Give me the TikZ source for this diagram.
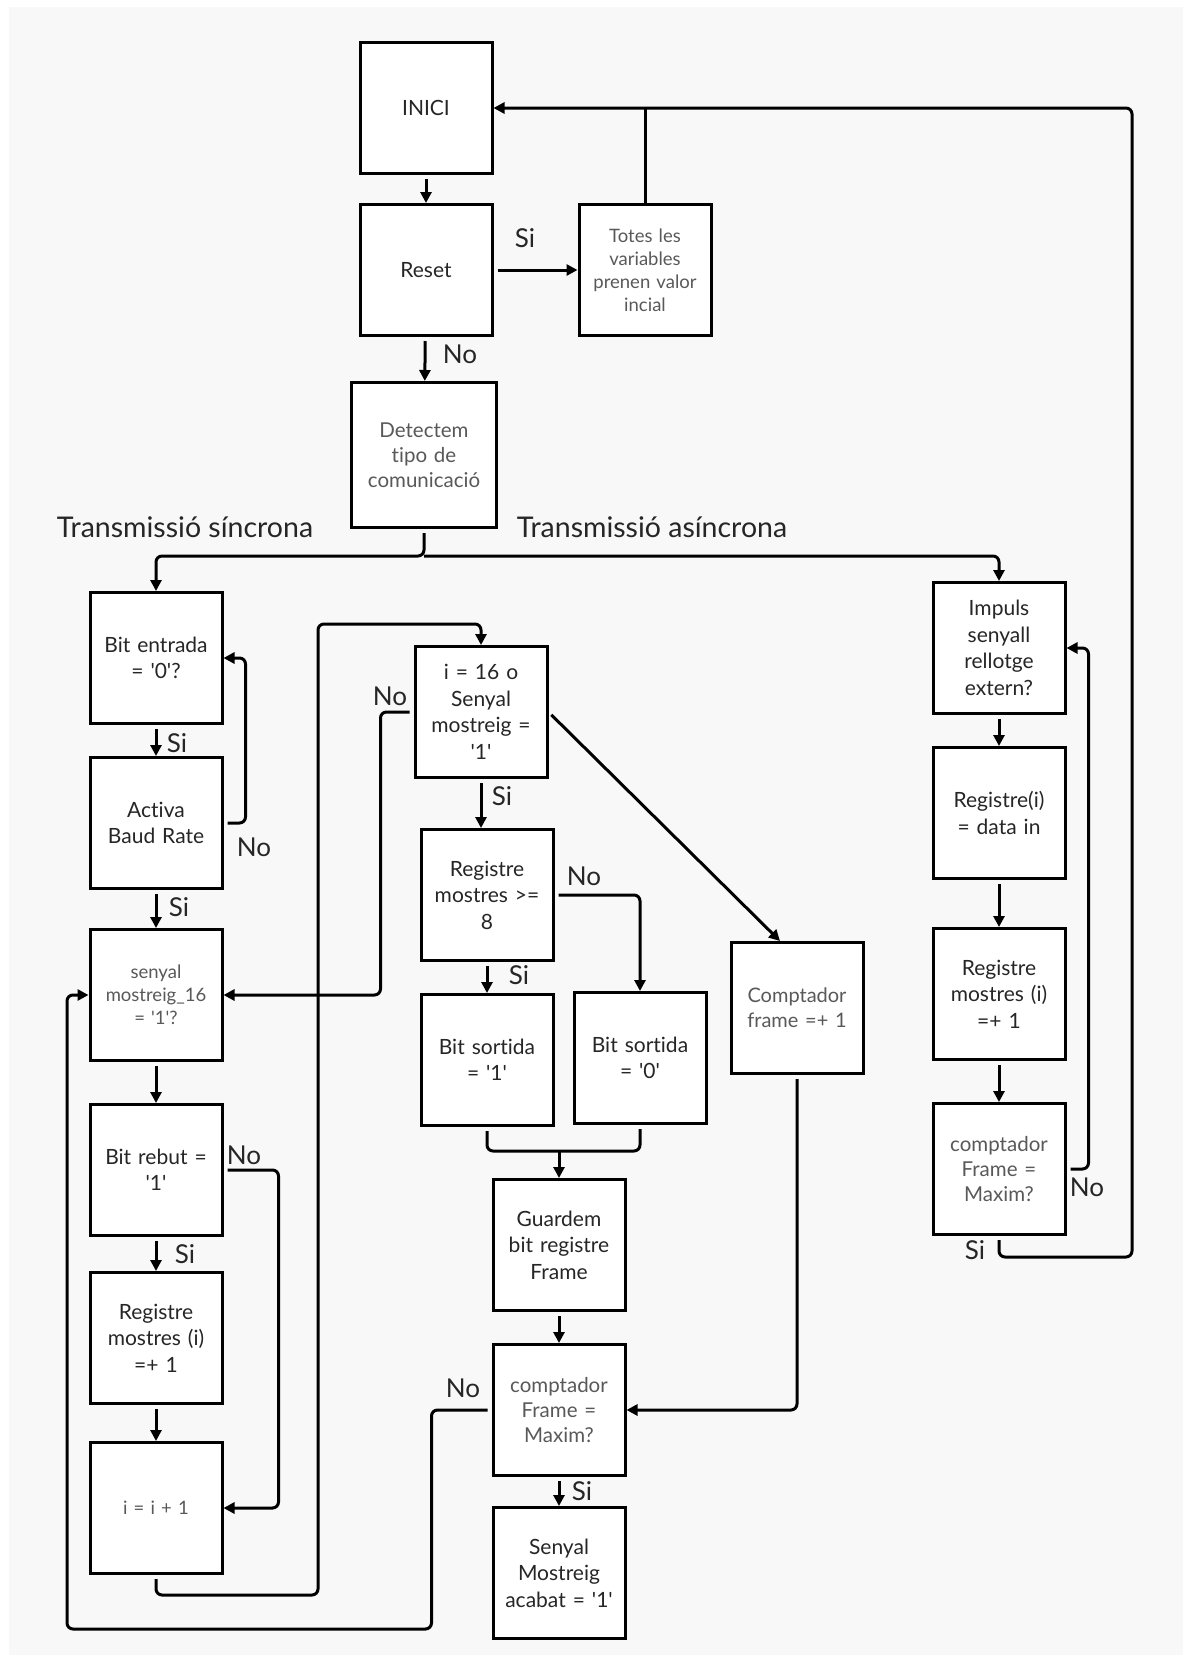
\documentclass[tikz,border=0pt]{standalone}
\usepackage{fontspec}
\setmainfont{Lato}[Ligatures={NoCommon}]
\usetikzlibrary{arrows.meta}
\definecolor{bg}{HTML}{F8F8F8}
\newcommand\sq{\textquotesingle}
\begin{document}
\begin{tikzpicture}[x=1pt,y=-1pt,
  box/.style={draw, line width=3pt, fill=white, minimum width=132pt, minimum height=131pt, inner sep=4pt, align=center, text width=124pt, font=\fontsize{21}{26.5}\selectfont, text=black!85},
  lbox/.style={box, font=\fontsize{18.5}{23}\selectfont, text=black!65},
  lbl/.style={font=\fontsize{26}{30}\selectfont, text=black!85, inner sep=0pt},
  ln/.style={line width=3pt, rounded corners=6pt},
  arr/.style={ln, shorten <=4pt, -{Triangle[length=11pt,width=11pt]}},
]
\useasboundingbox (0,0) rectangle (1183,1655);
\fill[white] (0,0) rectangle (1183,1655);
\fill[bg] (9,7) rectangle (1183,1655);

% top
\node[box] (inici) at (426,108) {INICI};
\node[box] (reset) at (426,270) {Reset};
\node[lbox] (totes) at (645,270) {Totes les\\variables\\prenen valor\\incial};
\node[lbox, minimum width=145pt, minimum height=145pt, text width=137pt, font=\fontsize{20.5}{25}\selectfont] (detect) at (424,455) {Detectem\\tipo de\\comunicació};

% left column
\node[box] (bitin) at (156,658) {Bit entrada\\= \sq0\sq?};
\node[box] (activa) at (156,823) {Activa\\Baud Rate};
\node[lbox] (senyal) at (156,995) {senyal\\mostreig\_16\\= \sq1\sq?};
\node[box] (bitrebut) at (156,1170) {Bit rebut =\\\sq1\sq};
\node[box] (regL) at (156,1338) {Registre\\mostres (i)\\=+ 1};
\node[lbox] (iinc) at (156,1508) {i = i + 1};

% middle
\node[box] (i16) at (481,712) {i = 16 o\\Senyal\\mostreig =\\\sq1\sq};
\node[box] (reg8) at (487,895) {Registre\\mostres >=\\8};
\node[box] (bs1) at (487,1060) {Bit sortida\\= \sq1\sq};
\node[box] (bs0) at (640,1058) {Bit sortida\\= \sq0\sq};
\node[lbox, font=\fontsize{20}{25}\selectfont] (cframe) at (797,1008) {Comptador\\frame =+ 1};
\node[box] (guard) at (559,1245) {Guardem\\bit registre\\Frame};
\node[lbox, font=\fontsize{20.5}{25}\selectfont] (cmM) at (559,1410) {comptador\\Frame =\\Maxim?};
\node[box] (senac) at (559,1573) {Senyal\\Mostreig\\acabat = \sq1\sq};

% right
\node[box] (impuls) at (999,648) {Impuls\\senyall\\rellotge\\extern?};
\node[box] (regdata) at (999,813) {Registre(i)\\= data in};
\node[box] (regR) at (999,994) {Registre\\mostres (i)\\=+ 1};
\node[lbox, font=\fontsize{20.5}{25}\selectfont] (cmR) at (999,1169) {comptador\\Frame =\\Maxim?};

% connectors top
\draw[arr] (inici) -- (reset);
\draw[arr] (reset) -- (totes);
\draw[ln] (totes.north) -- (totes.north |- inici.east);
\draw[arr] (cmR.south) |- (1132,1257) |- (inici.east);
\draw[arr] (reset) -- (detect);
\coordinate (br) at (424,556);
\draw[arr] (detect.south) -- (br) -| (bitin.north);
\draw[arr, shorten <=0pt] (br) -| (impuls.north);

% left column connectors
\draw[arr] (bitin) -- (activa);
\draw[arr] (activa.east) -- ++(22,0) |- (bitin.east);
\draw[arr] (activa) -- (senyal);
\draw[arr] (senyal) -- (bitrebut);
\draw[arr] (bitrebut) -- (regL);
\draw[arr] (bitrebut.east) -- ++(55,0) |- (iinc.east);
\draw[arr] (regL) -- (iinc);
\draw[arr] (iinc.south) -- ++(0,20) -| (318,624) -| (i16.north);

% middle connectors
\draw[arr] (i16.west) -- ++(-33,0) |- (senyal.east);
\draw[arr] (i16.south) -- (i16.south |- reg8.north);
\draw[arr] (i16.east) -- ([xshift=-17pt]cframe.north);
\draw[arr] (reg8) -- (bs1);
\draw[arr] (reg8.east) -| (bs0.north);
\coordinate (mj) at (559,1151);
\draw[ln, shorten <=4pt] (bs1.south) |- (mj);
\draw[ln, shorten <=4pt] (bs0.south) |- (mj);
\draw[arr, shorten <=0pt] (mj) -- (guard.north);
\draw[arr] (guard) -- (cmM);
\draw[arr] (cframe.south) |- (cmM.east);
\draw[arr] (cmM) -- (senac);
\draw[arr] (cmM.west) -- ++(-60,0) |- (67,1629) |- (senyal.west);

% right connectors
\draw[arr] (impuls) -- (regdata);
\draw[arr] (regdata) -- (regR);
\draw[arr] (regR) -- (cmR);
\draw[arr] (cmR.east) -- ++(22,0) |- (impuls.east);

% labels
\node[lbl] (lSi1) at (525,238) {Si};
\node[lbl] (lNo1) at (460,354) {No};
\node[lbl, font=\fontsize{28.5}{32}\selectfont] (lSync) at (185,527) {Transmissió síncrona};
\node[lbl, font=\fontsize{28.5}{32}\selectfont] (lAsync) at (652,527) {Transmissió asíncrona};
\node[lbl] (lSi2) at (177,743) {Si};
\node[lbl] (lNo2) at (254,847) {No};
\node[lbl] (lSi3) at (179,907) {Si};
\node[lbl] (lNo3) at (244,1155) {No};
\node[lbl] (lSi4) at (185,1254) {Si};
\node[lbl] (lNo4) at (390,696) {No};
\node[lbl] (lSi5) at (502,796) {Si};
\node[lbl] (lNo5) at (584,876) {No};
\node[lbl] (lSi6) at (519,975) {Si};
\node[lbl] (lNo6) at (463,1388) {No};
\node[lbl] (lSi7) at (582,1491) {Si};
\node[lbl] (lNo7) at (1087,1187) {No};
\node[lbl] (lSi8) at (975,1250) {Si};
\end{tikzpicture}
\end{document}
